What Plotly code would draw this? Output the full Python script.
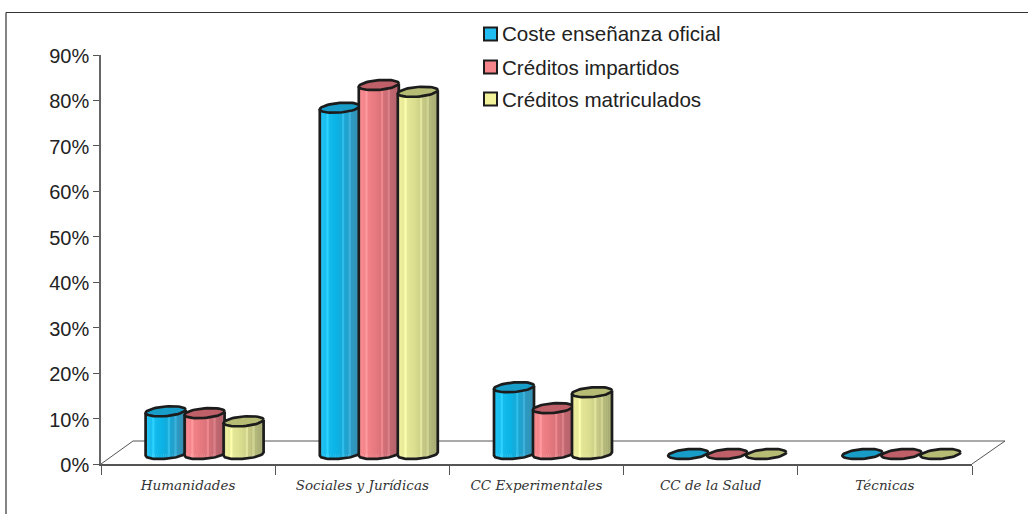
import math
import plotly.graph_objects as go

categories = ["Humanidades", "Sociales y Jurídicas", "CC Experimentales", "CC de la Salud", "Técnicas"]
series_names = ["Coste enseñanza oficial", "Créditos impartidos", "Créditos matriculados"]
coste = [9.4, 76.2, 14.7, 0, 0]
impartidos = [9.0, 81.2, 10.1, 0, 0]
matriculados = [7.2, 79.7, 13.6, 0, 0]
y_ticks = [0, 10, 20, 30, 40, 50, 60, 70, 80, 90]
y_tick_labels = ["0%", "10%", "20%", "30%", "40%", "50%", "60%", "70%", "80%", "90%"]

series_values = [coste, impartidos, matriculados]
side_left = ["#22c4f4", "#fb8d92", "#f0f2a0"]
side_mid = ["#0bb4e6", "#e87a80", "#dcdf90"]
side_right = ["#3c8db0", "#b0606a", "#a3a872"]
cap_colors = ["#189cc8", "#bf5f68", "#b7bc74"]
swatch_colors = ["#22bdf0", "#f5858a", "#f2f29a"]

# plot geometry (pixels)
W, H = 1028, 514
L, R, T, B = 101, 972, 55, 464
PX_X = (R - L) / 5
PX_Y = (B - T) / 90
ux = lambda p: p / PX_X
uy = lambda p: p / PX_Y
LIFT = uy(10)
SHIFT = ux(16.5)
STEP = ux(39)
A = ux(20)
BB = uy(4.8)
K = uy(1.6)
N = 18
INK = "#1c1c1c"


def mix(c1, c2, f):
    a = [int(c1[i:i + 2], 16) for i in (1, 3, 5)]
    b = [int(c2[i:i + 2], 16) for i in (1, 3, 5)]
    return "rgb(%d,%d,%d)" % tuple(round(p + (q - p) * f) for p, q in zip(a, b))


def strip_color(s, j):
    f = j / (N - 1)
    if f < 0.4:
        c = mix(side_left[s], side_mid[s], f / 0.4)
    else:
        c = mix(side_mid[s], side_right[s], (f - 0.4) / 0.6)
    if j in (3, 10, 13):   # pale ribs of the original shading
        h = c[4:-1].split(",")
        c = "rgb(%d,%d,%d)" % tuple(min(255, int(v) + 22) for v in h)
    return c


def bottom(u):
    return LIFT - BB * math.sqrt(max(0, 1 - u * u)) + K * u


fig = go.Figure()
for s, vals in enumerate(series_values):
    centers = [i + SHIFT + (s - 1) * STEP for i in range(len(categories))]
    fig.add_trace(go.Bar(x=centers, y=vals, base=LIFT, width=2 * A * 0.9, name=series_names[s],
                         marker=dict(color=side_mid[s], line=dict(width=0)), showlegend=False,
                         hoverinfo="skip"))
    # shaded side strips
    for j in range(N):
        u1 = -1 + 2 * j / N
        u2 = -1 + 2 * (j + 1) / N
        xs, ys = [], []
        for c, v in zip(centers, vals):
            if v <= 0:
                continue
            us = [u1 + (u2 - u1) * q / 3 for q in range(4)]
            xs += [c + A * u for u in us] + [c + A * u2, c + A * u1, None]
            ys += [bottom(u) for u in us] + [LIFT + v + K * u2, LIFT + v + K * u1, None]
        col = strip_color(s, j)
        fig.add_trace(go.Scatter(x=xs, y=ys, mode="lines", fill="toself", fillcolor=col,
                                 line=dict(color=col, width=0.6), showlegend=False, hoverinfo="skip"))
    # outline of sides and bottom
    xs, ys = [], []
    for c, v in zip(centers, vals):
        if v <= 0:
            continue
        us = [-1 + 2 * q / 30 for q in range(31)]
        xs += [c - A] + [c + A * u for u in us] + [c + A, None]
        ys += [LIFT + v - K] + [bottom(u) for u in us] + [LIFT + v + K, None]
    fig.add_trace(go.Scatter(x=xs, y=ys, mode="lines", line=dict(color=INK, width=2.7),
                             showlegend=False, hoverinfo="skip"))
    # top caps
    xs, ys = [], []
    for c, v in zip(centers, vals):
        for q in range(49):
            t = 2 * math.pi * q / 48
            xs.append(c + A * math.cos(t))
            ys.append(LIFT + v + BB * math.sin(t) + K * math.cos(t))
        xs.append(None)
        ys.append(None)
    fig.add_trace(go.Scatter(x=xs, y=ys, mode="lines", fill="toself", fillcolor=cap_colors[s],
                             line=dict(color=INK, width=2.7), showlegend=False, hoverinfo="skip"))

px = lambda p: (p - L) / (R - L)
py = lambda p: (B - p) / (B - T)
shapes = []
floor = [(L, B, 133, 441), (133, 441, 1005, 441), (1005, 441, R, B)]
for a, b, c, d in floor:
    shapes.append(dict(type="line", xref="paper", yref="paper", x0=px(a), y0=py(b), x1=px(c), y1=py(d),
                       line=dict(color="#555555", width=1), layer="below"))
# frame
shapes.append(dict(type="line", xref="paper", yref="paper", x0=px(6), y0=py(12.5), x1=px(1028), y1=py(12.5),
                   line=dict(color="#333333", width=1.2), layer="below"))
shapes.append(dict(type="line", xref="paper", yref="paper", x0=px(6), y0=py(12.5), x1=px(6), y1=py(514),
                   line=dict(color="#333333", width=1.2), layer="below"))

annotations = []
legend_y = [34, 67, 99]
for name, y, col in zip(series_names, legend_y, swatch_colors):
    shapes.append(dict(type="rect", xref="paper", yref="paper", x0=px(484), x1=px(497), y0=py(y + 6.5), y1=py(y - 6.5),
                       fillcolor=col, line=dict(color=INK, width=2)))
    annotations.append(dict(xref="paper", yref="paper", x=px(499.5), y=py(y), text=name, showarrow=False,
                            xanchor="left", yanchor="middle",
                            font=dict(family="Liberation Sans", size=20.6, color="#222222")))

fig.update_layout(
    width=W, height=H, autosize=False, barmode="overlay",
    margin=dict(l=L, r=W - R, t=T, b=H - B),
    paper_bgcolor="white", plot_bgcolor="rgba(0,0,0,0)",
    showlegend=False, shapes=shapes, annotations=annotations,
    xaxis=dict(range=[-0.5, 4.5], tickmode="array", tickvals=list(range(5)), ticktext=categories,
               ticks="", showgrid=False, zeroline=False, showline=True, linecolor="#555555", linewidth=1.5,
               tickfont=dict(family="DejaVu Serif", size=13.5, color="#333333", style="italic"),
               ticklabelstandoff=8, tickangle=0,
               minor=dict(tickmode="array", tickvals=[-0.5, 0.5, 1.5, 2.5, 3.5, 4.5], ticks="outside",
                          ticklen=9, tickcolor="#555555", tickwidth=1, showgrid=False)),
    yaxis=dict(range=[0, 90], tickmode="array", tickvals=y_ticks, ticktext=y_tick_labels,
               ticks="outside", ticklen=6, ticklabelshift=1,
               tickcolor="#555555", tickwidth=1.2, showgrid=False, zeroline=False, showline=True,
               linecolor="#666666", linewidth=1.5,
               tickfont=dict(family="Liberation Sans", size=20, color="#222222")),
)
fig.write_html("out.html", config={"displayModeBar": False}, post_script="document.body.style.margin='0';")
